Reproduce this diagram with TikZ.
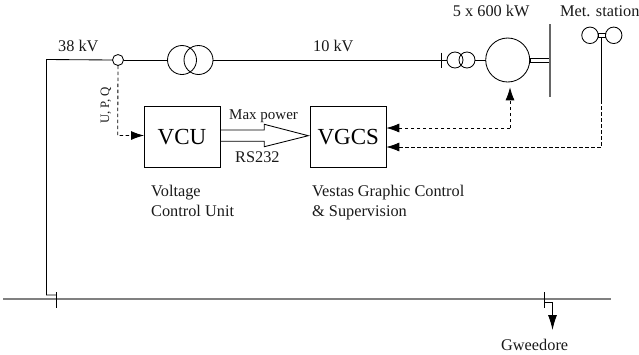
\documentclass[tikz,border=0pt]{standalone}
\usepackage{fontspec}
\setmainfont{Liberation Serif}
\usetikzlibrary{arrows.meta}
\tikzset{
    wire/.style={draw=black, line width=0.85pt},
    signal/.style={wire, dash pattern=on 3.5pt off 2.5pt, -{Latex[length=13pt,width=9pt]}},
    busbar/.style={draw=black!50, line width=2pt},
    unit/.style={circle, draw=black, line width=0.85pt, inner sep=0pt, outer sep=0pt},
    ctrlbox/.style={rectangle, draw=black, line width=0.85pt, inner sep=0pt, outer sep=0pt, minimum width=76pt, minimum height=60.5pt, font=\fontsize{23}{26}\selectfont},
    tag/.style={inner sep=0pt, anchor=base west, font=\fontsize{16.3}{19}\selectfont, text=black!90}
}
\begin{document}
\begin{tikzpicture}[x=1pt, y=-1pt]
        \useasboundingbox (0,0) rectangle (639,354);

        % 38 kV side
        \node[unit, minimum width=11pt] (ct) at (118,60) {};
        \node[unit, minimum size=29pt] (tra) at (182,60) {};
        \node[unit, minimum size=29pt] (trb) at (198.5,60) {};
        \coordinate (corner) at (46.5,59.5);
        \coordinate (feed) at (56.5,295);
        \coordinate (feedbend) at (46.5,295);
        \draw[wire] (feed) -- (feedbend) -- (corner) -- (ct.west);
        \draw[wire] (ct.east) -- (tra.west);

        % turbines
        \coordinate (breakT) at (441.7,52.7);
        \coordinate (breakB) at (441.7,67.7);
        \coordinate (breakM) at (441.7,60);
        \node[unit, minimum size=16pt] (trc) at (455,60) {};
        \node[unit, minimum size=16pt] (trd) at (467,60) {};
        \node[unit, minimum size=44pt] (gen) at (507.7,60) {};
        \node[rectangle, draw=black, line width=0.6pt, inner sep=0pt, outer sep=0pt, minimum width=19pt, minimum height=3.8pt] (shaft) at (540.2,60.2) {};
        \coordinate (bladeT) at (550,24);
        \coordinate (bladeB) at (550,96.7);
        \draw[wire] (trb.east) -- (breakM);
        \draw[wire] (breakT) -- (breakB);
        \draw[wire] (breakM) -- (trc.west);
        \draw[wire] (trd.east) -- (gen.west);
        \draw[draw=black!60, line width=1.3pt] (bladeT) -- (bladeB);

        % met. station
        \node[unit, minimum size=16.5pt] (cupa) at (590,35.3) {};
        \node[unit, minimum size=16.5pt] (cupb) at (613.7,35.3) {};
        \node[rectangle, draw=black, line width=0.6pt, inner sep=0pt, outer sep=0pt, minimum width=7.6pt, minimum height=3.8pt] (mast) at (601.8,35.3) {};
        \coordinate (mastB) at (601.8,100);
        \coordinate (mastE) at (601.8,147);
        \draw[wire] (mast.south) -- (mastB);

        % control boxes
        \node[ctrlbox] (vcu) at (182,137) {VCU};
        \node[ctrlbox] (vgcs) at (348.3,137) {VGCS};
        \draw[wire] (vcu.east |- 0,130) -- (264.3,130) -- (264.3,124.3) -- (308.3,135.7) -- (264.3,146.7) -- (264.3,141.3) -- (vcu.east |- 0,141.3);

        % signals
        \coordinate (ctbend) at (117.7,135.5);
        \coordinate (genbend) at (510,128);
        \coordinate (gentip) at (510,87.3);
        \draw[signal] (ct.south) -- (ctbend) -- (vcu.west |- ctbend);
        \draw[signal] (genbend) -- (gentip);
        \draw[signal] (genbend) -- (vgcs.east |- genbend);
        \draw[signal] (mastB) -- (mastE) -- (vgcs.east |- mastE);

        % lower bus
        \coordinate (busL) at (3,299);
        \coordinate (busR) at (611,299);
        \coordinate (tickaT) at (56.5,292);
        \coordinate (tickaB) at (56.5,308);
        \coordinate (tickbT) at (544,292);
        \coordinate (tickbB) at (544,307.7);
        \coordinate (load) at (544,302);
        \coordinate (loadbend) at (552.5,302);
        \coordinate (loadE) at (552.5,330);
        \draw[busbar] (busL) -- (busR);
        \draw[wire] (tickaT) -- (tickaB);
        \draw[wire] (tickbT) -- (tickbB);
        \draw[wire, -{Latex[length=15pt,width=9pt]}] (load) -- (loadbend) -- (loadE);

        % labels
        \node[tag] (lblhv) at (58,51) {38 kV};
        \node[tag] (lblmv) at (313,51) {10 kV};
        \node[tag] (lblwt) at (452.7,16) {5 x 600 kW};
        \node[tag] (lblmet) at (560,16) {Met. station};
        \node[tag, font=\fontsize{15}{18}\selectfont] (lblmax) at (229,119.5) {Max power};
        \node[tag] (lblrs) at (235,162.7) {RS232};
        \node[tag] (lblvcua) at (151,196) {Voltage};
        \node[tag] (lblvcub) at (151,216) {Control Unit};
        \node[tag] (lblvgcsa) at (312,196) {Vestas Graphic Control};
        \node[tag] (lblvgcsb) at (312,216) {\& Supervision};
        \node[tag] (lblload) at (501,350) {Gweedore};
        \node[tag, font=\fontsize{12.8}{14}\selectfont, rotate=90] (lblupq) at (109,124) {U, P, Q};
    \end{tikzpicture}
\end{document}
